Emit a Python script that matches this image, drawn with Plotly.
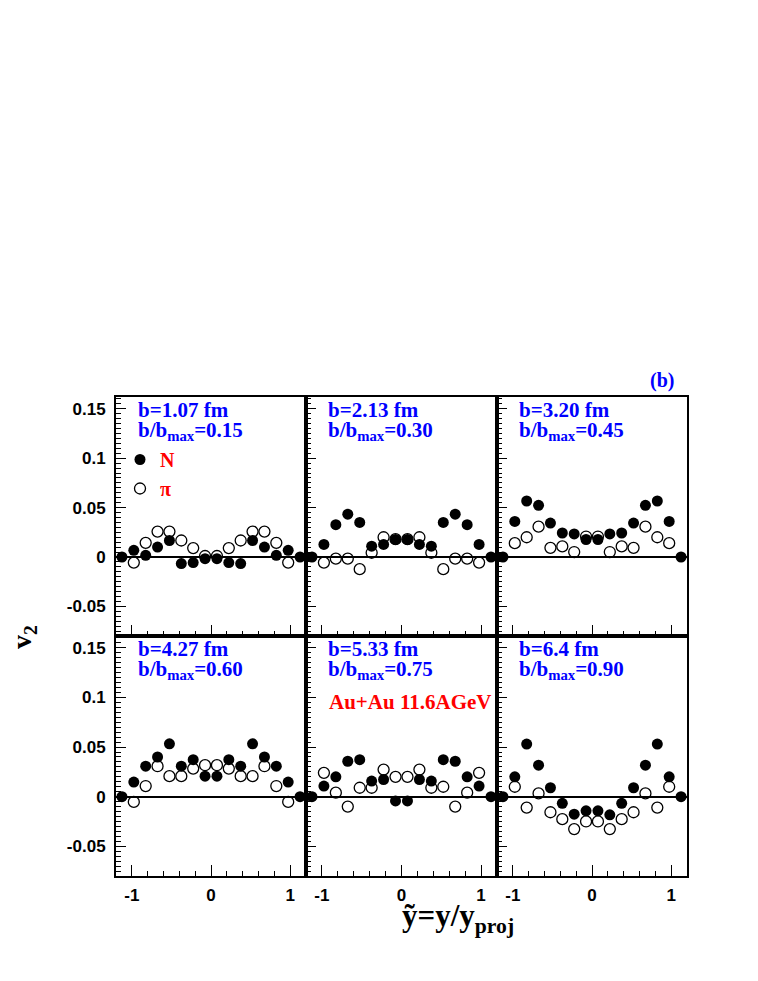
import plotly.graph_objects as go

W, H = 758, 981

# rapidity bins (y/y_proj)
Y_TILDE = [-1.125, -0.975, -0.825, -0.675, -0.525, -0.375, -0.225, -0.075,
           0.075, 0.225, 0.375, 0.525, 0.675, 0.825, 0.975, 1.125]

# nucleons (filled), one list per panel
N_V2 = [
    [0.0, 0.0067, 0.0017, 0.010, 0.0167, -0.0067, -0.0057, -0.0017,
     -0.0017, -0.0057, -0.0067, 0.0167, 0.010, 0.0017, 0.0067, 0.0],
    [0.0, 0.0127, 0.0327, 0.0433, 0.035, 0.011, 0.0127, 0.0177,
     0.0177, 0.0127, 0.011, 0.035, 0.0433, 0.0327, 0.0127, 0.0],
    [0.0, 0.036, 0.0567, 0.0523, 0.0343, 0.0243, 0.0233, 0.0177,
     0.0177, 0.0233, 0.0243, 0.0343, 0.0523, 0.0567, 0.036, 0.0],
    [0.0, 0.0147, 0.0307, 0.040, 0.0533, 0.0307, 0.0373, 0.0207,
     0.0207, 0.0373, 0.0307, 0.0533, 0.040, 0.0307, 0.0147, 0.0],
    [0.0, 0.0107, 0.020, 0.0357, 0.0373, 0.0157, 0.0173, -0.0043,
     -0.0043, 0.0173, 0.0157, 0.0373, 0.0357, 0.020, 0.0107, 0.0],
    [0.0, 0.020, 0.053, 0.0317, 0.009, -0.0067, -0.0177, -0.0143,
     -0.0143, -0.0183, -0.0067, 0.009, 0.0317, 0.053, 0.020, 0.0],
]

# pions (open), one list per panel
PI_V2 = [
    [None, -0.0057, 0.0143, 0.0257, 0.0257, 0.0167, 0.009, 0.001,
     0.001, 0.009, 0.0167, 0.0257, 0.0257, 0.0143, -0.0057, None],
    [None, -0.0057, -0.0017, -0.0017, -0.0123, 0.0043, 0.020, 0.018,
     0.018, 0.020, 0.0043, -0.0123, -0.0017, -0.0017, -0.0057, None],
    [None, 0.014, 0.020, 0.0307, 0.0093, 0.0107, 0.005, 0.0207,
     0.0207, 0.005, 0.0107, 0.0093, 0.0307, 0.020, 0.014, None],
    [None, -0.0053, 0.0107, 0.0307, 0.0207, 0.0207, 0.0283, 0.0317,
     0.0317, 0.0283, 0.0207, 0.0207, 0.0307, 0.0107, -0.0053, None],
    [None, 0.024, 0.004, -0.010, 0.009, 0.009, 0.0273, 0.020,
     0.020, 0.0273, 0.009, 0.010, -0.010, 0.004, 0.024, None],
    [None, 0.010, -0.011, 0.0033, -0.0157, -0.0227, -0.0327, -0.025,
     -0.025, -0.0327, -0.0227, -0.0157, 0.0033, -0.011, 0.010, None],
]

B_LABELS = ["b=1.07 fm", "b=2.13 fm", "b=3.20 fm", "b=4.27 fm", "b=5.33 fm", "b=6.4 fm"]
BMAX_LABELS = ["0.15", "0.30", "0.45", "0.60", "0.75", "0.90"]

BLUE = "#0000ff"
RED = "#ff0000"
SERIF = "Liberation Serif"
SANS = "Liberation Sans"

# panel edges in screen pixels
COL_X = [116, 306, 497, 687]
ROW_Y = [397, 636, 876]
PAGE_OFF = 8   # page margin around the plot div


def px(x):
    return (x - PAGE_OFF) / W


def py(y):
    return 1 - (y - PAGE_OFF) / H


fig = go.Figure()

for i in range(6):
    n = i + 1
    xa = "x" if n == 1 else f"x{n}"
    ya = "y" if n == 1 else f"y{n}"
    fig.add_trace(go.Scatter(
        x=Y_TILDE, y=PI_V2[i], mode="markers", xaxis=xa, yaxis=ya,
        name="π", showlegend=(i == 0), legendrank=2,
        marker=dict(symbol="circle-open", size=11, color="black",
                    line=dict(width=1.3, color="black")),
        cliponaxis=False,
    ))
    fig.add_trace(go.Scatter(
        x=Y_TILDE, y=N_V2[i], mode="markers", xaxis=xa, yaxis=ya,
        name="N", showlegend=(i == 0), legendrank=1,
        marker=dict(symbol="circle", size=11, color="black"),
        cliponaxis=False,
    ))

layout = dict(
    width=W, height=H,
    margin=dict(l=0, r=0, t=0, b=0),
    paper_bgcolor="white", plot_bgcolor="white",
    showlegend=True,
    legend=dict(
        x=px(120), y=py(440), xanchor="left", yanchor="top",
        bgcolor="rgba(0,0,0,0)", itemwidth=30, tracegroupgap=0,
        font=dict(family=SERIF, size=20, color=RED, weight="bold"),
    ),
)

for i in range(6):
    r, c = divmod(i, 3)
    n = i + 1
    xk = "xaxis" if n == 1 else f"xaxis{n}"
    yk = "yaxis" if n == 1 else f"yaxis{n}"
    layout[xk] = dict(
        domain=[px(COL_X[c]), px(COL_X[c + 1])],
        anchor="y" if n == 1 else f"y{n}",
        range=[-1.2, 1.2], showgrid=False, zeroline=False,
        showline=True, mirror=True, linecolor="black", linewidth=2,
        ticks="inside", ticklen=11, tickwidth=1, tickcolor="black",
        tickvals=[-1, 0, 1], ticktext=["-1", "0", "1"],
        minor=dict(dtick=0.2, tick0=0, ticks="inside", ticklen=5,
                   tickcolor="black", showgrid=False),
        showticklabels=(r == 1), ticklabelstandoff=3,
        tickfont=dict(family=SANS, size=17, color="black", weight="bold"),
    )
    layout[yk] = dict(
        domain=[py(ROW_Y[r + 1]), py(ROW_Y[r])],
        anchor="x" if n == 1 else f"x{n}",
        range=[-0.08, 0.162], showgrid=False,
        zeroline=True, zerolinecolor="black", zerolinewidth=2,
        showline=True, mirror=True, linecolor="black", linewidth=2,
        ticks="inside", ticklen=10, tickwidth=1, tickcolor="black",
        tickvals=[-0.05, 0, 0.05, 0.1, 0.15],
        ticktext=["-0.05", "0", "0.05", "0.1", "0.15"],
        minor=dict(dtick=0.005, tick0=0, ticks="inside", ticklen=5,
                   tickcolor="black", showgrid=False),
        showticklabels=(c == 0), ticklabelstandoff=5,
        tickfont=dict(family=SANS, size=17, color="black", weight="bold"),
    )

fig.update_layout(**layout)

lab_font = dict(family=SERIF, size=21, color=BLUE, weight="bold")
for i in range(6):
    r, c = divmod(i, 3)
    x0 = COL_X[c] + 20
    y0 = ROW_Y[r]
    fig.add_annotation(text=B_LABELS[i], xref="paper", yref="paper",
                       x=px(x0), y=py(y0 + 13), xanchor="left", yanchor="middle",
                       showarrow=False, font=lab_font)
    fig.add_annotation(text=f"b/b<sub>max</sub>={BMAX_LABELS[i]}",
                       xref="paper", yref="paper",
                       x=px(x0), y=py(y0 + 34), xanchor="left", yanchor="middle",
                       showarrow=False, font=lab_font)

fig.add_annotation(text="Au+Au 11.6AGeV", xref="paper", yref="paper",
                   x=px(410), y=py(702), xanchor="center", yanchor="middle",
                   showarrow=False,
                   font=dict(family=SERIF, size=21, color=RED, weight="bold"))

fig.add_annotation(text="(b)", xref="paper", yref="paper",
                   x=px(662), y=py(380), xanchor="center", yanchor="middle",
                   showarrow=False,
                   font=dict(family=SERIF, size=20, color=BLUE, weight="bold"))

fig.add_annotation(text="ỹ=y/y<sub>proj</sub>", xref="paper", yref="paper",
                   x=px(458), y=py(918), xanchor="center", yanchor="middle",
                   showarrow=False,
                   font=dict(family=SERIF, size=31, color="black", weight="bold"))

fig.add_annotation(text="v<sub>2</sub>", xref="paper", yref="paper",
                   x=px(23), y=py(637), xanchor="center", yanchor="middle",
                   textangle=-90, showarrow=False,
                   font=dict(family=SERIF, size=28, color="black", weight="bold"))

fig.write_html("out.html")
